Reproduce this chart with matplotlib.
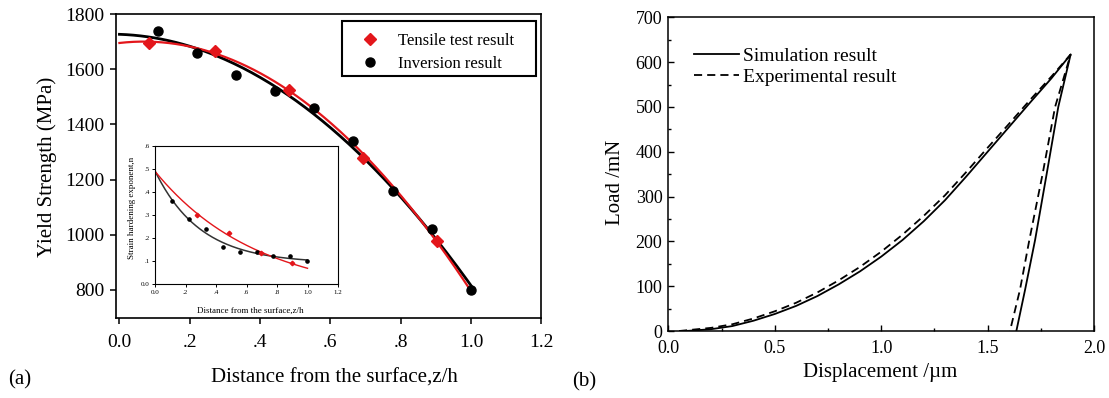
import numpy as np
import matplotlib
matplotlib.use("Agg")
import matplotlib.pyplot as plt
from matplotlib.patches import Rectangle

plt.rcParams['font.family'] = ['Liberation Serif', 'DejaVu Serif']

# ---- panel (a): yield strength vs depth ----
tensile_z = [0.084, 0.272, 0.483, 0.694, 0.904]
tensile_ys = [1694, 1667, 1525, 1279, 979]
inversion_z = [0.109, 0.220, 0.332, 0.443, 0.554, 0.665, 0.777, 0.888, 0.999]
inversion_ys = [1740, 1660, 1580, 1522, 1461, 1340, 1160, 1020, 800]

main_xticks = [0.0, 0.2, 0.4, 0.6, 0.8, 1.0, 1.2]
main_xticklabels = ["0.0", ".2", ".4", ".6", ".8", "1.0", "1.2"]
main_yticks = [800, 1000, 1200, 1400, 1600, 1800]

# inset: strain hardening exponent
inset_inv_z = [0.114, 0.224, 0.336, 0.446, 0.554, 0.666, 0.774, 0.886, 0.996]
inset_inv_n = [0.36, 0.28, 0.24, 0.16, 0.14, 0.14, 0.12, 0.12, 0.10]
inset_ten_z = [0.275, 0.484, 0.692, 0.897]
inset_ten_n = [0.30, 0.22, 0.133, 0.09]
n_surface = 0.49
inset_yticks = [0.0, 0.1, 0.2, 0.3, 0.4, 0.5, 0.6]
inset_yticklabels = ["0.0", ".1", ".2", ".3", ".4", ".5", ".6"]

# ---- panel (b): load-displacement ----
sim_disp = [0.08, 0.2, 0.3, 0.4, 0.5, 0.6, 0.7, 0.8, 0.9, 1.0, 1.1, 1.2, 1.3, 1.4,
            1.5, 1.6, 1.7, 1.8, 1.89, 1.832, 1.778, 1.723, 1.676, 1.635]
sim_load = [0, 4, 11, 23, 38, 56, 78, 104, 133, 166, 203, 245, 292, 345,
            400, 455, 510, 564, 617, 500, 352, 203, 92, 0]
exp_disp = [0.05, 0.2, 0.3, 0.4, 0.5, 0.6, 0.7, 0.8, 0.9, 1.0, 1.1, 1.2, 1.3, 1.4,
            1.5, 1.6, 1.7, 1.8, 1.89, 1.817, 1.759, 1.696, 1.652, 1.605]
exp_load = [0, 7, 15, 28, 44, 63, 86, 113, 143, 177, 215, 257, 303, 355,
            409, 462, 516, 568, 617, 500, 352, 203, 92, 0]

RED = '#e3161b'

fig = plt.figure(figsize=(11.09, 3.98), dpi=100)

# ================= (a) =================
ax = fig.add_axes([0.1042, 0.2003, 0.3839, 0.7645])
zz = np.linspace(0, 1.0, 200)
p_ten = np.polyfit(tensile_z, tensile_ys, 2)
p_inv = np.polyfit(inversion_z, inversion_ys, 2)
ax.plot(zz, np.polyval(p_inv, zz), color='black', lw=2.0, zorder=2)
ax.plot(zz, np.polyval(p_ten, zz), color=RED, lw=1.6, zorder=3)
ax.plot(tensile_z, tensile_ys, 'D', color=RED, ms=6.5, ls='none',
        label='Tensile test result', zorder=4)
ax.plot(inversion_z, inversion_ys, 'o', color='black', ms=6.5, ls='none',
        label='Inversion result', zorder=4)
ax.set_xlim(-0.011, 1.2)
ax.set_ylim(697.5, 1800)
ax.set_xticks(main_xticks)
ax.set_xticklabels(main_xticklabels)
ax.set_yticks(main_yticks)
ax.tick_params(direction='out', length=4, width=1.1, labelsize=14)
ax.tick_params(axis='x', pad=7)
ax.tick_params(axis='y', pad=4)
for s in ax.spines.values():
    s.set_linewidth(1.2)
ax.set_xlabel('Distance from the surface,z/h', fontsize=15)
ax.set_ylabel('Yield Strength (MPa)', fontsize=15)
ax.xaxis.set_label_coords(0.513, -0.196)
ax.yaxis.set_label_coords(-0.161, 0.497)
ax.xaxis.label.set_va('center')
ax.yaxis.label.set_va('center')
ax.legend(loc='upper left', bbox_to_anchor=(0.570, 0.938), borderaxespad=0,
          borderpad=0, fontsize=12, frameon=False, handlelength=1.4,
          handletextpad=0.98, labelspacing=0.4, numpoints=1)
ax.add_patch(Rectangle((0.531, 0.796), 0.4564, 0.182, transform=ax.transAxes,
                       fill=False, edgecolor='black', lw=1.5, zorder=5))

# inset
ins = fig.add_axes([0.1398, 0.2864, 0.165, 0.3475])
zi = np.linspace(0, 1.0, 200)


def exp_fit(z, n):
    z = np.concatenate([[0.0], z])
    n = np.concatenate([[n_surface], n])
    best = None
    for c in np.linspace(0.2, 8, 400):
        A = np.column_stack([np.ones_like(z), np.exp(-c * z)])
        coef, *_ = np.linalg.lstsq(A, n, rcond=None)
        err = np.sum((A @ coef - n) ** 2)
        if best is None or err < best[0]:
            best = (err, coef, c)
    _, (a, b), c = best
    return a + b * np.exp(-c * zi)


ins.plot(zi, exp_fit(np.array(inset_inv_z), np.array(inset_inv_n)), color='#333333', lw=1.1)
ins.plot(zi, exp_fit(np.array(inset_ten_z), np.array(inset_ten_n)), color=RED, lw=1.0)
ins.plot(inset_inv_z, inset_inv_n, 'o', color='black', ms=2.3)
ins.plot(inset_ten_z, inset_ten_n, 'D', color=RED, ms=2.3)
ins.set_xlim(0, 1.2)
ins.set_ylim(0, 0.6)
ins.set_xticks(main_xticks)
ins.set_xticklabels(main_xticklabels)
ins.set_yticks(inset_yticks)
ins.set_yticklabels(inset_yticklabels)
ins.tick_params(direction='out', length=2, width=0.7, labelsize=5, pad=2)
for s in ins.spines.values():
    s.set_linewidth(0.8)
ins.set_xlabel('Distance from the surface,z/h', fontsize=6.5)
ins.set_ylabel('Strain hardening exponent,n', fontsize=6.5)
ins.xaxis.set_label_coords(0.52, -0.193)
ins.yaxis.set_label_coords(-0.126, 0.55)
ins.xaxis.label.set_va('center')
ins.yaxis.label.set_va('center')

fig.text(0.0072, 0.045, '(a)', fontsize=15, va='center', ha='left')

# ================= (b) =================
bx = fig.add_axes([0.6027, 0.1683, 0.3838, 0.7882])
bx.plot(sim_disp, sim_load, color='black', lw=1.3, label='Simulation result')
bx.plot(exp_disp, exp_load, color='black', lw=1.3, dashes=(4.5, 2.8),
        label='Experimental result')
bx.set_xlim(0, 2.0)
bx.set_ylim(0, 700)
bx.set_xticks([0.0, 0.5, 1.0, 1.5, 2.0])
bx.set_xticks([0.25, 0.75, 1.25, 1.75], minor=True)
bx.set_yticks(range(0, 701, 100))
bx.set_yticks(range(50, 700, 100), minor=True)
bx.xaxis.set_major_formatter(matplotlib.ticker.FormatStrFormatter('%.1f'))
bx.tick_params(which='major', direction='in', length=4, width=1.0, labelsize=13, pad=4.3)
bx.tick_params(axis='x', which='major', pad=6.5)
bx.tick_params(which='minor', direction='in', length=2.5, width=1.0)
for s in bx.spines.values():
    s.set_linewidth(1.1)
bx.set_xlabel('Displacement /\u00b5m', fontsize=15)
bx.set_ylabel('Load /mN', fontsize=15)
bx.xaxis.set_label_coords(0.497, -0.131)
bx.yaxis.set_label_coords(-0.125, 0.475)
bx.xaxis.label.set_va('center')
bx.yaxis.label.set_va('center')
bx.legend(loc='upper left', bbox_to_anchor=(0.06, 0.905), borderaxespad=0, borderpad=0,
          frameon=False, fontsize=14, handlelength=2.3, handletextpad=0.2,
          labelspacing=0.2)

fig.text(0.516, 0.04, '(b)', fontsize=15, va='center', ha='left')

fig.savefig('out.png', dpi=100)
